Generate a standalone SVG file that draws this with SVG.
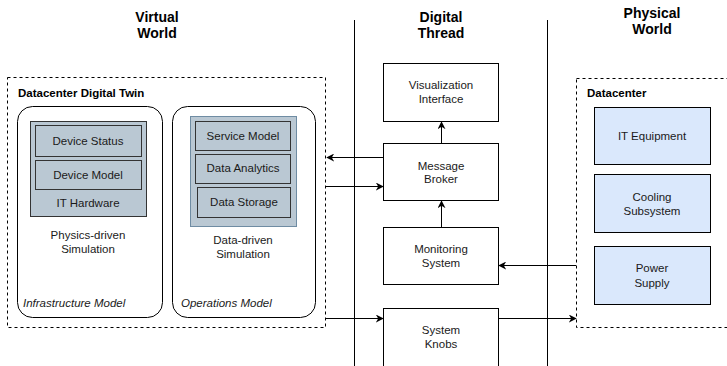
<svg xmlns="http://www.w3.org/2000/svg" width="727" height="366" viewBox="0 0 727 366">
<style>
text{font-family:"Liberation Sans",Arial,sans-serif;font-size:11.5px;fill:#1a1a1a}
.c{text-anchor:middle}
.h{font-size:14px;font-weight:bold;text-anchor:middle;fill:#000}
.b{font-weight:bold;fill:#000}
.i{font-style:italic}
.dash{fill:none;stroke:#000;stroke-width:1;stroke-dasharray:3 3}
.box{fill:#fff;stroke:#000;stroke-width:1}
.grp{fill:#bac8d3;stroke:#333;stroke-width:1}
.grp2{fill:#bac8d3;stroke:#6f8ca3;stroke-width:1}
.blue{fill:#dae8fc;stroke:#000;stroke-width:1}
.ln{fill:none;stroke:#000;stroke-width:1}
</style>
<defs>
<marker id="ah" viewBox="0 0 10 10" refX="9" refY="5" markerWidth="8" markerHeight="8" orient="auto" markerUnits="userSpaceOnUse">
<path d="M0,0 L10,5 L0,10 L3,5 Z" fill="#000"/>
</marker>
</defs>

<g id="headers">
<text class="h" x="157" y="22">Virtual</text>
<text class="h" x="157" y="38">World</text>
<text class="h" x="441" y="22">Digital</text>
<text class="h" x="441" y="38">Thread</text>
<text class="h" x="652" y="18">Physical</text>
<text class="h" x="652" y="34">World</text>
</g>

<g id="lanes">
<line class="ln" x1="354.5" y1="20" x2="354.5" y2="366"/>
<line class="ln" x1="547.5" y1="20" x2="547.5" y2="366"/>
</g>

<g id="digital-twin">
<rect class="dash" x="7.5" y="77.5" width="318" height="250"/>
<text class="b" x="18" y="97">Datacenter Digital Twin</text>
</g>

<g id="infrastructure-model">
<rect class="box" x="17.5" y="106.5" width="145" height="211" rx="15" ry="15"/>
<text class="i" x="23" y="307">Infrastructure Model</text>
<text class="c" x="88" y="239">Physics-driven</text>
<text class="c" x="88" y="253">Simulation</text>
</g>

<g id="it-hardware">
<rect class="grp" x="30.5" y="121.5" width="116" height="95"/>
<text class="c" x="88" y="207">IT Hardware</text>
</g>
<g id="device-status">
<rect class="grp" x="35.5" y="125.5" width="106" height="31"/>
<text class="c" x="88" y="145">Device Status</text>
</g>
<g id="device-model">
<rect class="grp" x="35.5" y="160.5" width="106" height="29"/>
<text class="c" x="88" y="179">Device Model</text>
</g>

<g id="operations-model">
<rect class="box" x="172.5" y="106.5" width="143" height="211" rx="15" ry="15"/>
<text class="i" x="181" y="307">Operations Model</text>
<text class="c" x="243" y="244">Data-driven</text>
<text class="c" x="243" y="258">Simulation</text>
</g>
<g id="data-stack">
<rect class="grp2" x="190.5" y="116.5" width="106" height="110"/>
</g>
<g id="service-model">
<rect class="grp" x="195.5" y="121.5" width="95" height="29"/>
<text class="c" x="243" y="140">Service Model</text>
</g>
<g id="data-analytics">
<rect class="grp" x="195.5" y="154.5" width="95" height="29"/>
<text class="c" x="243" y="172">Data Analytics</text>
</g>
<g id="data-storage">
<rect class="grp" x="197.5" y="187.5" width="93" height="30"/>
<text class="c" x="244" y="206">Data Storage</text>
</g>

<g id="visualization-interface">
<rect class="box" x="383.5" y="63.5" width="115" height="58"/>
<text class="c" x="441" y="89">Visualization</text>
<text class="c" x="441" y="103">Interface</text>
</g>
<g id="message-broker">
<rect class="box" x="383.5" y="143.5" width="115" height="57"/>
<text class="c" x="441" y="170">Message</text>
<text class="c" x="441" y="183">Broker</text>
</g>
<g id="monitoring-system">
<rect class="box" x="383.5" y="227.5" width="115" height="57"/>
<text class="c" x="441" y="253">Monitoring</text>
<text class="c" x="441" y="267">System</text>
</g>
<g id="system-knobs">
<rect class="box" x="383.5" y="308.5" width="115" height="70"/>
<text class="c" x="441" y="334">System</text>
<text class="c" x="441" y="348">Knobs</text>
</g>

<g id="datacenter">
<rect class="dash" x="576.5" y="78.5" width="170" height="249"/>
<text class="b" x="587" y="97">Datacenter</text>
</g>
<g id="it-equipment">
<rect class="blue" x="594.5" y="107.5" width="116" height="57"/>
<text class="c" x="652" y="140">IT Equipment</text>
</g>
<g id="cooling-subsystem">
<rect class="blue" x="594.5" y="174.5" width="116" height="58"/>
<text class="c" x="652" y="201">Cooling</text>
<text class="c" x="652" y="215">Subsystem</text>
</g>
<g id="power-supply">
<rect class="blue" x="594.5" y="246.5" width="116" height="58"/>
<text class="c" x="652" y="272">Power</text>
<text class="c" x="652" y="287">Supply</text>
</g>

<g id="connectors">
<line class="ln" x1="441.5" y1="143" x2="441.5" y2="122" marker-end="url(#ah)"/>
<line class="ln" x1="441.5" y1="227" x2="441.5" y2="201" marker-end="url(#ah)"/>
<line class="ln" x1="383" y1="157.5" x2="327" y2="157.5" marker-end="url(#ah)"/>
<line class="ln" x1="326" y1="186.5" x2="383" y2="186.5" marker-end="url(#ah)"/>
<line class="ln" x1="326" y1="318.5" x2="383" y2="318.5" marker-end="url(#ah)"/>
<line class="ln" x1="499" y1="318.5" x2="576" y2="318.5" marker-end="url(#ah)"/>
<line class="ln" x1="576" y1="265.5" x2="499" y2="265.5" marker-end="url(#ah)"/>
</g>
</svg>
